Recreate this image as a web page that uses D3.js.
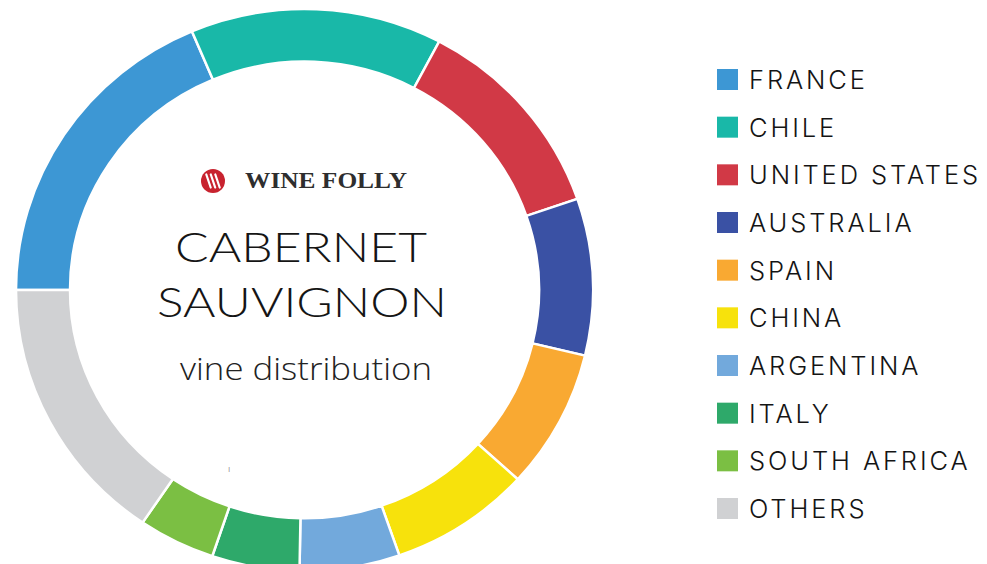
<!DOCTYPE html>
<html>
<head>
<meta charset="utf-8">
<script src="https://cdn.jsdelivr.net/npm/d3@7"></script>
<style>
  html, body { margin: 0; padding: 0; background: #ffffff; }
  svg { display: block; }
</style>
</head>
<body>
<svg id="chart" width="987" height="564"></svg>
<script>
// ---- data (share of Cabernet Sauvignon vineyard area, %, read from the ring) ----
const countries = ["FRANCE", "CHILE", "UNITED STATES", "AUSTRALIA", "SPAIN",
                   "CHINA", "ARGENTINA", "ITALY", "SOUTH AFRICA", "OTHERS"];
const shares    = [18.6, 14.1, 12.0, 9.0, 8.0, 7.9, 5.6, 4.9, 4.3, 15.5];
const colors    = ["#3d97d4", "#19b8a8", "#d13946", "#3a51a4", "#f9a932",
                   "#f7e20c", "#72a9dc", "#2ea96a", "#7bbf43", "#d0d1d3"];
// legend order (same as pie order)
const legendOrder = countries;

const data = countries.map((c, i) => ({ country: c, value: shares[i], color: colors[i] }));

const svg = d3.select("#chart");

// ---- donut ----
const cx = 304.5, cy = 290, outerR = 288.5, innerR = 234.5, yScaleRing = 0.974;

const pie = d3.pie()
  .sort(null)
  .value(d => d.value)
  .startAngle(-Math.PI / 2)
  .endAngle(3 * Math.PI / 2);

const arc = d3.arc().innerRadius(innerR).outerRadius(outerR);

const ring = svg.append("g")
  .attr("transform", `translate(${cx},${cy}) scale(1,${yScaleRing})`);

ring.selectAll("path")
  .data(pie(data))
  .join("path")
  .attr("d", arc)
  .attr("fill", d => d.data.color)
  .attr("stroke", "#ffffff")
  .attr("stroke-width", 2.5);

// ---- center text ----
const center = svg.append("g");

// logo mark
const logo = center.append("g").attr("transform", "translate(213,181)");
logo.append("circle").attr("r", 12).attr("fill", "#c8232f");
[-4.5, 0, 4.5].forEach(o => {
  logo.append("line")
    .attr("x1", o - 2.2).attr("y1", -6.5)
    .attr("x2", o + 2.2).attr("y2", 6.5)
    .attr("stroke", "#ffffff").attr("stroke-width", 2.2)
    .attr("stroke-linecap", "round");
});

center.append("text")
  .attr("x", 245).attr("y", 188)
  .attr("font-family", "'Liberation Serif', 'DejaVu Serif', serif")
  .attr("font-weight", "bold")
  .attr("font-size", 23)
  .attr("fill", "#2e2e2e")
  .attr("textLength", 162)
  .attr("lengthAdjust", "spacingAndGlyphs")
  .text("WINE FOLLY");

center.append("text")
  .attr("x", 175).attr("y", 262)
  .attr("font-family", "Lato, 'Open Sans', sans-serif")
  .attr("font-weight", 300)
  .attr("font-size", 41)
  .attr("fill", "#151515")
  .attr("textLength", 252)
  .attr("lengthAdjust", "spacingAndGlyphs")
  .text("CABERNET");

center.append("text")
  .attr("x", 157).attr("y", 317)
  .attr("font-family", "Lato, 'Open Sans', sans-serif")
  .attr("font-weight", 300)
  .attr("font-size", 41)
  .attr("fill", "#151515")
  .attr("textLength", 290)
  .attr("lengthAdjust", "spacingAndGlyphs")
  .text("SAUVIGNON");

center.append("text")
  .attr("x", 180).attr("y", 380)
  .attr("font-family", "'Open Sans', sans-serif")
  .attr("font-weight", 300)
  .attr("font-size", 31)
  .attr("fill", "#222222")
  .attr("textLength", 252)
  .attr("lengthAdjust", "spacingAndGlyphs")
  .text("vine distribution");

center.append("text")
  .attr("x", 228).attr("y", 472)
  .attr("font-family", "'Open Sans', sans-serif")
  .attr("font-size", 9)
  .attr("fill", "#999999")
  .text("ı");

// ---- legend ----
const rowY = d3.scalePoint()
  .domain(legendOrder)
  .range([89, 518]);

const legend = svg.append("g");
const rows = legend.selectAll("g")
  .data(data)
  .join("g")
  .attr("transform", d => `translate(717,${rowY(d.country)})`);

rows.append("rect")
  .attr("x", 0).attr("y", -20)
  .attr("width", 21).attr("height", 21)
  .attr("fill", d => d.color);

rows.append("text")
  .attr("x", 32).attr("y", 0)
  .attr("font-family", "Inter, Lato, sans-serif")
  .attr("font-weight", 300)
  .attr("font-size", 25.5)
  .attr("letter-spacing", 2.9)
  .attr("fill", "#141414")
  .text(d => d.country);
</script>
</body>
</html>
